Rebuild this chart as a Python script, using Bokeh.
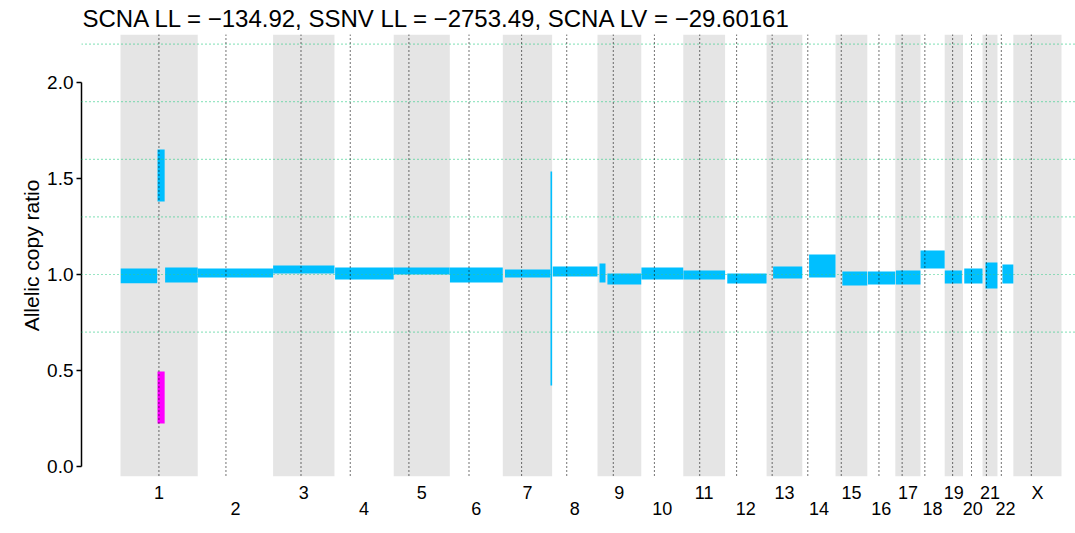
import numpy as np
from bokeh.plotting import figure
from bokeh.models import (Range1d, LinearAxis, FixedTicker, Span, BoxAnnotation,
                          ColumnDataSource, PrintfTickFormatter)
from bokeh.embed import file_html
from bokeh.resources import INLINE

# ---------------- data ----------------
title_text = "SCNA LL = \u2212134.92, SSNV LL = \u22122753.49, SCNA LV = \u221229.60161"

chrom_names = [str(i) for i in range(1, 23)] + ["X"]
chrom_len_mb = [249.25, 243.20, 198.02, 191.15, 180.92, 171.12, 159.14, 146.36,
                141.21, 135.53, 135.01, 133.85, 115.17, 107.35, 102.53, 90.35,
                81.20, 78.08, 59.13, 63.03, 48.13, 51.30, 155.27]
centromere_mb = [124.0, 91.0, 90.0, 51.0, 49.0, 62.0, 60.5, 47.0, 51.0, 42.5,
                 53.0, 37.0, 18.0, 17.7, 18.5, 37.5, 22.0, 14.0, 25.5, 27.4,
                 12.5, 12.5, 58.0]

# major allele copy ratio segments (blue)
seg_chrom = ["1", "1", "1", "2", "3", "4", "5", "6", "7", "7", "8", "9", "9",
             "10", "11", "12", "13", "14", "15", "16", "17", "18", "19", "20",
             "21", "22"]
seg_start_mb = [0.8, 119.5, 144.0, 0.1, 0.1, 2.0, 0.1, 0.5, 7.0, 153.8, 2.0,
                6.5, 32.0, 0.5, 0.5, 7.0, 21.0, 22.0, 22.0, 2.0, 2.0, 0.1,
                0.3, 4.0, 9.5, 16.0]
seg_end_mb = [118.5, 142.5, 249.2, 243.1, 197.9, 191.1, 180.7, 171.0, 153.5,
              159.1, 146.3, 25.8, 141.1, 135.5, 135.0, 133.8, 115.1, 107.3,
              102.5, 90.3, 81.1, 78.0, 55.5, 63.0, 48.0, 51.2]
seg_low = [0.955, 1.380, 0.958, 0.984, 1.005, 0.974, 1.000, 0.958, 0.984, 0.422,
           0.990, 0.958, 0.948, 0.974, 0.974, 0.953, 0.979, 0.984, 0.943, 0.948,
           0.948, 1.031, 0.953, 0.953, 0.927, 0.953]
seg_high = [1.031, 1.651, 1.036, 1.031, 1.047, 1.036, 1.036, 1.036, 1.026, 1.536,
            1.042, 1.057, 1.005, 1.036, 1.021, 1.005, 1.042, 1.104, 1.016, 1.016,
            1.021, 1.125, 1.021, 1.031, 1.062, 1.052]

# minor allele copy ratio segments (magenta) that differ from the major ones
minor_chrom = ["1"]
minor_start_mb = [119.5]
minor_end_mb = [142.5]
minor_low = [0.224]
minor_high = [0.495]

ratio_levels = [0.7, 1.0, 1.3, 1.6, 1.9, 2.2]
y_ticks = [0.0, 0.5, 1.0, 1.5, 2.0]

# ---------------- derived genome coordinates ----------------
lens = np.array(chrom_len_mb)
offsets = np.concatenate([[0.0], np.cumsum(lens)[:-1]])
off = dict(zip(chrom_names, offsets))
genome_end = float(offsets[-1] + lens[-1])
centers = [round(float(o + l / 2.0), 2) for o, l in zip(offsets, lens)]

seg_src = ColumnDataSource(dict(
    left=[off[c] + s for c, s in zip(seg_chrom, seg_start_mb)],
    right=[off[c] + e for c, e in zip(seg_chrom, seg_end_mb)],
    bottom=seg_low, top=seg_high))
minor_src = ColumnDataSource(dict(
    left=[off[c] + s for c, s in zip(minor_chrom, minor_start_mb)],
    right=[off[c] + e for c, e in zip(minor_chrom, minor_end_mb)],
    bottom=minor_low, top=minor_high))

FONT = "Liberation Sans"

p = figure(width=1075, height=533,
           x_range=Range1d(-0.04143 * genome_end, 1.01489 * genome_end),
           y_range=Range1d(-0.052, 2.25),
           output_backend="svg", toolbar_location=None,
           x_axis_location=None,
           min_border_left=81, min_border_right=0,
           min_border_top=34, min_border_bottom=57,
           background_fill_color="white", border_fill_color="white",
           outline_line_color=None, title=title_text)

p.title.text_font = FONT
p.title.text_font_size = "24px"
p.title.text_font_style = "normal"
p.title.text_color = "black"
p.title.standoff = 5
p.title.offset = 1

p.xgrid.visible = False
p.ygrid.visible = False

# alternating chromosome bands
for i in range(0, len(chrom_names), 2):
    p.add_layout(BoxAnnotation(left=float(offsets[i]), right=float(offsets[i] + lens[i]),
                               fill_color="#E5E5E5", fill_alpha=1.0,
                               line_color=None, level="underlay"))

# segments
p.quad(left="left", right="right", bottom="bottom", top="top", source=minor_src,
       fill_color="#FF00FF", line_color=None)
p.quad(left="left", right="right", bottom="bottom", top="top", source=seg_src,
       fill_color="#00BFFF", line_color=None)

# horizontal copy ratio levels
for lv in ratio_levels:
    p.add_layout(Span(location=lv, dimension="width", line_color="#33CC88",
                      line_width=1.2, line_dash="1 3", level="overlay"))

# centromeres
for o, c in zip(offsets, centromere_mb):
    p.add_layout(Span(location=float(o + c), dimension="height", line_color="black",
                      line_width=1.1, line_dash="1 3", level="overlay"))

# y axis
ya = p.yaxis[0]
ya.ticker = FixedTicker(ticks=y_ticks)
ya.formatter = PrintfTickFormatter(format="%.1f")
ya.bounds = (0, 2)
ya.axis_line_width = 1.5
ya.axis_line_color = "black"
ya.major_tick_line_width = 1.5
ya.major_tick_in = 0
ya.major_tick_out = 5
ya.minor_tick_line_color = None
ya.major_label_standoff = 3
ya.major_label_text_font = FONT
ya.major_label_text_font_size = "19px"
ya.major_label_text_color = "black"
ya.axis_label = "Allelic copy ratio"
ya.axis_label_text_font = FONT
ya.axis_label_text_font_size = "21px"
ya.axis_label_text_font_style = "normal"
ya.axis_label_text_color = "black"
ya.axis_label_standoff = 1

# chromosome labels: odd-position ones high, even-position ones low
def label_axis(idx, standoff):
    ticks = [centers[i] for i in idx]
    ax = LinearAxis(ticker=FixedTicker(ticks=ticks),
                    major_label_overrides={centers[i]: chrom_names[i] for i in idx},
                    axis_line_color=None, major_tick_line_color=None,
                    minor_tick_line_color=None, major_tick_in=0, major_tick_out=0,
                    major_label_standoff=standoff,
                    major_label_text_font=FONT, major_label_text_font_size="18px",
                    major_label_text_color="black")
    return ax

p.add_layout(label_axis(list(range(0, 23, 2)), 6), "below")
p.add_layout(label_axis(list(range(1, 23, 2)), -4), "below")

open("out.html", "w").write(file_html(p, INLINE))
